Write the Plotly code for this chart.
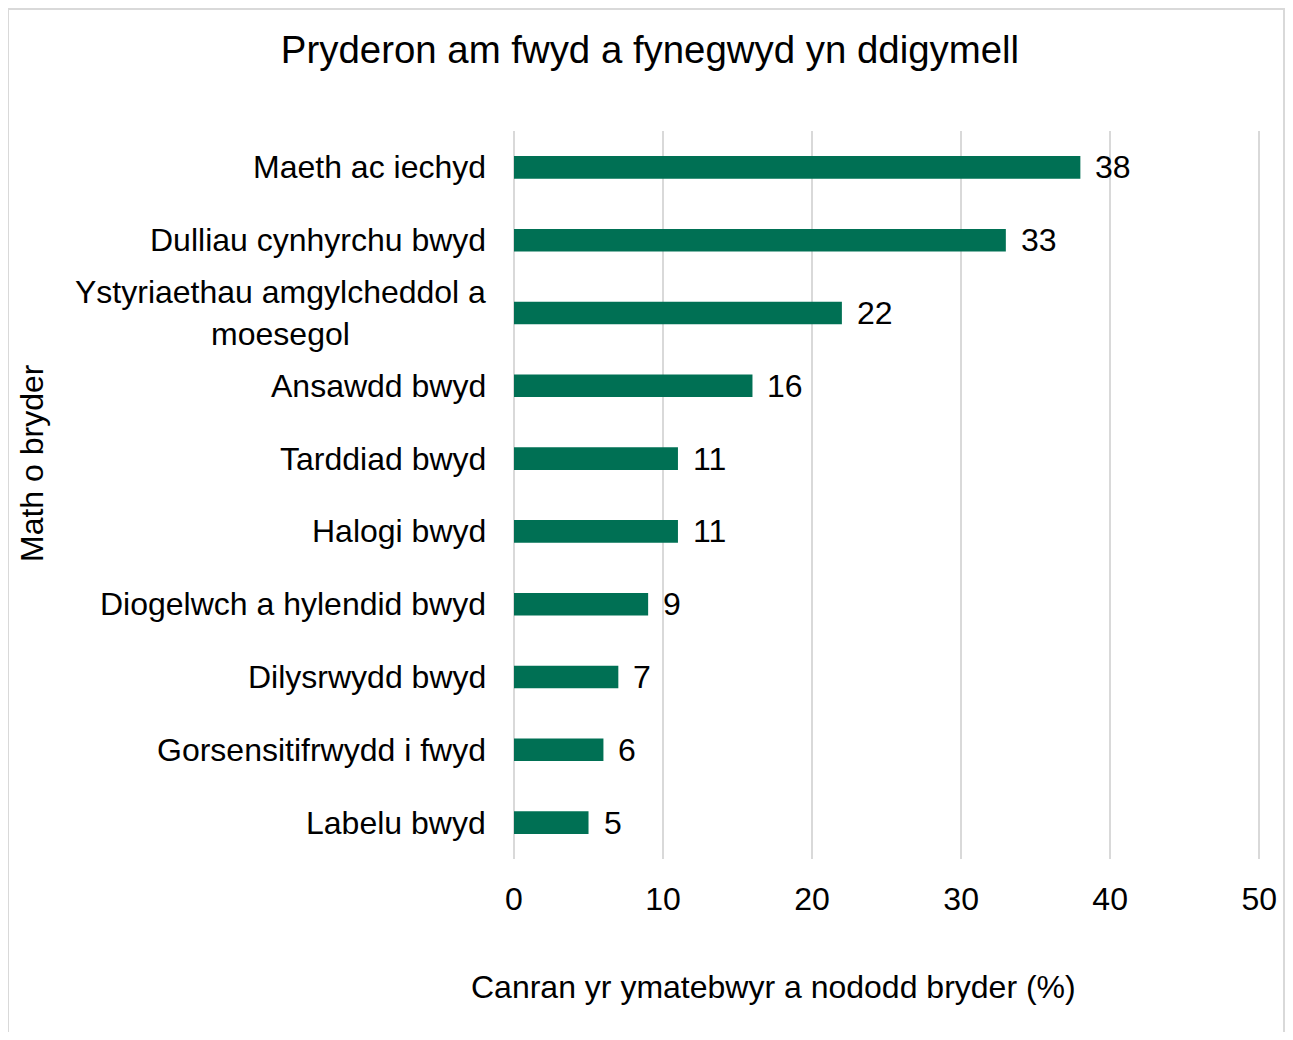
import plotly.graph_objects as go

categories = [
    "Maeth ac iechyd",
    "Dulliau cynhyrchu bwyd",
    "Ystyriaethau amgylcheddol a<br>moesegol",
    "Ansawdd bwyd",
    "Tarddiad bwyd",
    "Halogi bwyd",
    "Diogelwch a hylendid bwyd",
    "Dilysrwydd bwyd",
    "Gorsensitifrwydd i fwyd",
    "Labelu bwyd",
]
values = [38, 33, 22, 16, 11, 11, 9, 7, 6, 5]
x_ticks = [0, 10, 20, 30, 40, 50]

title = "Pryderon am fwyd a fynegwyd yn ddigymell"
x_title = "Canran yr ymatebwyr a nododd bryder (%)"
y_title = "Math o bryder"

# page has an 8px body margin; figure pixel = reference pixel - 8
OFF = 8
W, H = 1293 - OFF, 1040 - 2 * OFF
L, T = 514 - OFF, 131 - OFF
R = W - (1261 - OFF)
B = H - (859 - OFF)
pw, ph = W - L - R, H - T - B

FONT = "Liberation Sans, Arial, sans-serif"
BAR = "#007054"
GRID = "#d9d9d9"
FS = 32

fig = go.Figure(go.Bar(
    x=values, y=categories, orientation="h",
    marker=dict(color=BAR, line=dict(width=0)),
    width=0.31, hoverinfo="x+y",
))

ann = []
for c, v in zip(categories, values):
    ann.append(dict(x=0, xref="paper", y=c, yref="y", text=c, showarrow=False,
                    xanchor="right", yanchor="middle", align="center", xshift=-26,
                    font=dict(size=FS, color="#000000", family=FONT)))
    ann.append(dict(x=v, xref="x", y=c, yref="y", text=str(v), showarrow=False,
                    xanchor="left", yanchor="middle", xshift=13,
                    font=dict(size=FS, color="#000000", family=FONT)))

def px_x(x):
    return (x - OFF - L) / pw

def px_y(y):
    return (H - B - (y - OFF)) / ph

ann.append(dict(x=px_x(32), xref="paper", y=px_y(463), yref="paper",
                text=y_title, textangle=-90, showarrow=False, xanchor="center", yanchor="middle",
                font=dict(size=FS, color="#000000", family=FONT)))
ann.append(dict(x=px_x(773), xref="paper", y=px_y(987), yref="paper",
                text=x_title, showarrow=False, xanchor="center", yanchor="middle",
                font=dict(size=FS, color="#000000", family=FONT)))

shapes = [dict(type="rect", xref="paper", yref="paper",
               x0=px_x(8), x1=px_x(1284),
               y0=px_y(1060), y1=px_y(9),
               line=dict(color=GRID, width=2), fillcolor="rgba(0,0,0,0)", layer="below")]

fig.update_layout(
    width=W, height=H,
    margin=dict(l=L, r=R, t=T, b=B, pad=0),
    paper_bgcolor="white", plot_bgcolor="white",
    font=dict(family=FONT, color="#000000", size=FS),
    title=dict(text=title, x=(650 - OFF) / W, xref="container", xanchor="center",
               y=1 - (50 - OFF) / H, yref="container", yanchor="middle",
               font=dict(size=38.4, color="#000000", family=FONT)),
    showlegend=False,
    annotations=ann,
    shapes=shapes,
    bargap=0.69,
)
fig.update_xaxes(range=[0, 50.12], tickvals=x_ticks, showgrid=True, gridcolor=GRID, gridwidth=1.5,
                 zeroline=True, zerolinecolor=GRID, zerolinewidth=1.5, showline=False,
                 ticks="outside", ticklen=12, tickcolor="rgba(0,0,0,0)",
                 tickfont=dict(size=FS, color="#000000", family=FONT), fixedrange=True)
fig.update_yaxes(autorange="reversed", showticklabels=False, showgrid=False, zeroline=False,
                 showline=False, ticks="", fixedrange=True)

fig.write_html("out.html")
